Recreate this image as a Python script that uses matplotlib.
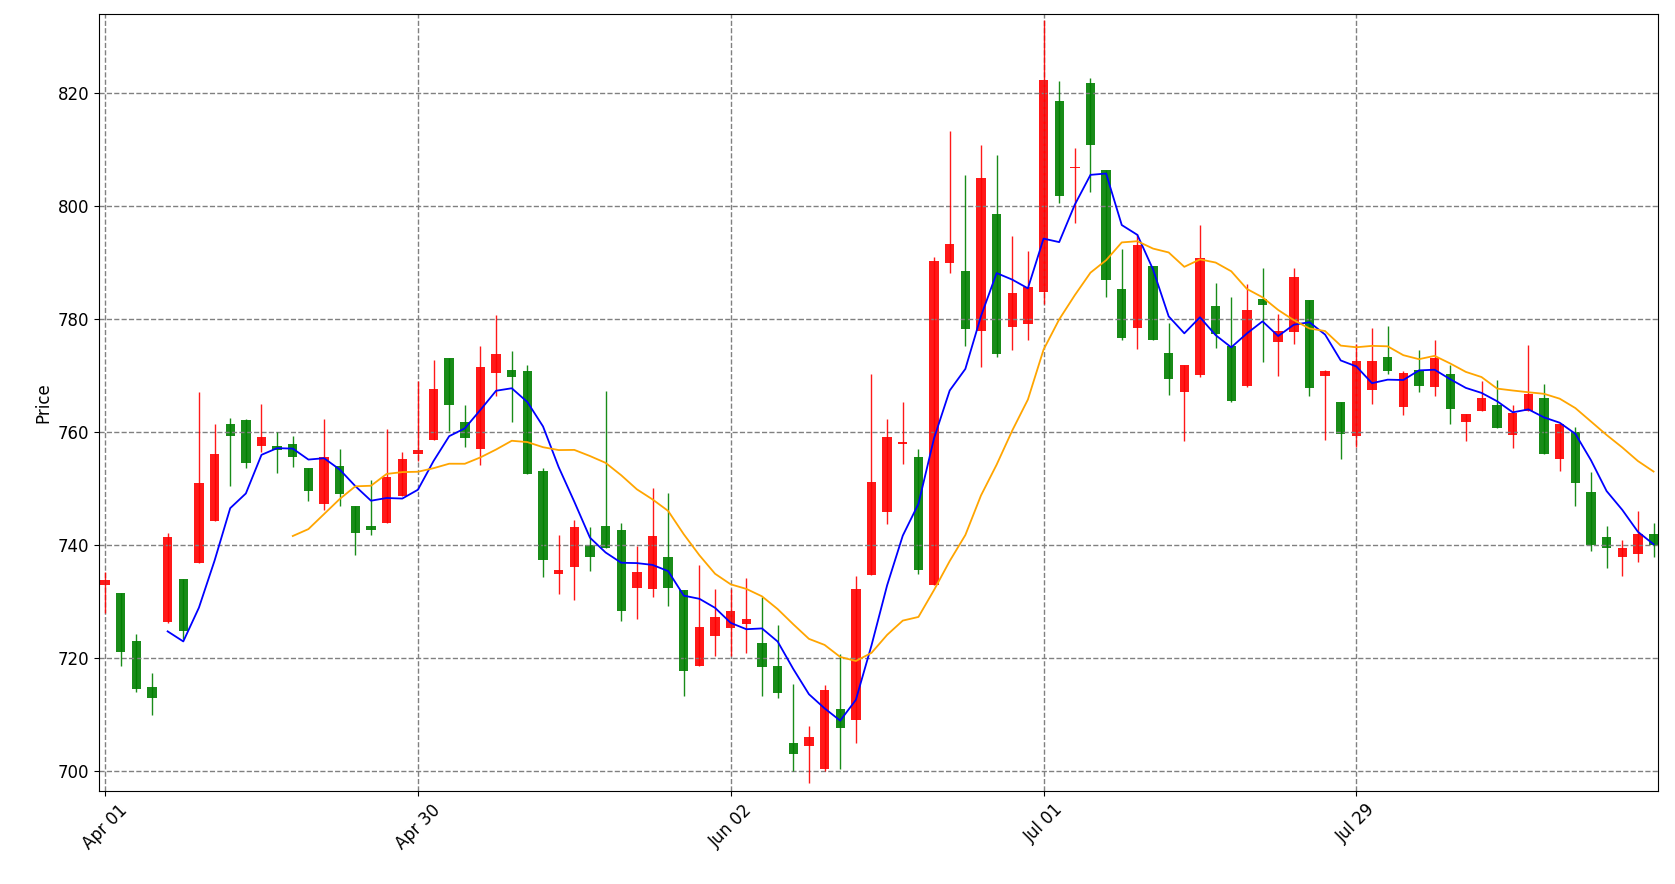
import numpy as np
import pandas as pd
import matplotlib
matplotlib.use("Agg")
import matplotlib.pyplot as plt

# OHLC, one entry per trading day
opens = [732.9, 731.6, 723.1, 715.0, 726.5, 734.1, 736.9, 744.3, 761.4, 762.1,
         757.6, 757.5, 758.0, 753.6, 747.4, 754.0, 746.9, 743.4, 744.0, 748.7,
         756.1, 758.6, 773.2, 761.9, 757.1, 770.5, 771.1, 770.8, 753.1, 735.0,
         736.2, 740.1, 743.5, 742.7, 732.4, 732.2, 737.9, 732.1, 718.7, 724.0,
         725.4, 726.0, 722.8, 718.6, 705.0, 704.5, 700.5, 711.1, 709.1, 734.8,
         745.9, 758.0, 755.7, 732.9, 790.0, 788.6, 778.0, 798.6, 778.7, 779.2,
         784.9, 818.7, 806.8, 821.9, 806.4, 785.4, 778.4, 789.4, 774.0, 767.2,
         770.1, 782.4, 775.2, 768.2, 783.6, 775.9, 777.7, 783.5, 770.0, 765.3,
         759.4, 767.5, 773.4, 764.5, 771.1, 768.0, 770.3, 761.8, 763.7, 764.8,
         759.6, 763.7, 766.1, 755.2, 760.0, 749.5, 741.5, 738.0, 738.5, 742.0]
highs = [735.3, 731.6, 724.4, 717.5, 742.2, 734.1, 767.1, 761.5, 762.6, 762.4,
         765.0, 760.0, 759.4, 753.6, 762.4, 757.0, 746.9, 751.6, 760.6, 756.5,
         769.1, 772.8, 773.2, 764.8, 775.3, 780.8, 774.4, 771.9, 753.7, 741.9,
         744.4, 743.3, 767.4, 744.0, 739.9, 750.2, 749.2, 732.1, 736.6, 732.3,
         732.2, 734.3, 730.8, 725.9, 715.5, 708.0, 715.3, 720.7, 734.5, 770.4,
         762.4, 765.4, 757.1, 791.0, 813.4, 805.6, 810.8, 809.0, 794.8, 792.0,
         833.0, 822.2, 810.4, 822.7, 806.4, 792.5, 795.1, 789.4, 779.4, 771.9,
         796.7, 786.5, 784.0, 786.2, 789.1, 780.9, 789.0, 783.5, 771.0, 765.3,
         775.6, 778.4, 778.8, 770.8, 774.6, 776.4, 771.9, 763.2, 769.1, 769.3,
         764.9, 775.4, 768.5, 761.4, 761.0, 753.0, 743.5, 741.0, 746.0, 744.0]
lows = [728.0, 718.7, 714.0, 710.0, 726.3, 723.4, 736.9, 744.3, 750.5, 753.6,
        756.6, 752.8, 753.8, 747.8, 746.2, 746.9, 738.3, 741.8, 744.0, 748.7,
        754.9, 758.6, 760.2, 757.4, 754.3, 766.5, 761.9, 752.6, 734.4, 731.4,
        730.3, 735.5, 739.5, 726.6, 726.9, 730.9, 729.3, 713.4, 718.7, 720.4,
        720.4, 720.9, 713.3, 713.0, 700.0, 698.0, 700.0, 700.5, 705.0, 734.8,
        743.8, 754.4, 734.9, 732.9, 788.2, 775.3, 771.5, 773.4, 774.5, 776.4,
        782.7, 800.5, 797.0, 802.6, 784.0, 776.4, 774.8, 776.4, 766.6, 758.5,
        769.8, 775.0, 765.3, 768.0, 772.5, 769.9, 775.6, 766.4, 758.7, 755.2,
        757.4, 765.1, 770.3, 763.1, 767.2, 766.4, 761.4, 758.4, 763.7, 760.8,
        757.2, 763.7, 756.1, 753.1, 747.0, 739.0, 736.0, 734.5, 737.0, 738.0]
closes = [733.8, 721.1, 714.5, 713.0, 741.5, 724.9, 751.0, 756.1, 759.4, 754.5,
          759.1, 756.9, 755.7, 749.7, 755.7, 749.1, 742.2, 742.8, 752.1, 755.2,
          756.9, 767.6, 764.8, 759.0, 771.6, 773.8, 769.8, 752.6, 737.4, 735.6,
          743.2, 738.0, 739.5, 728.3, 735.3, 741.6, 732.5, 717.8, 725.5, 727.3,
          728.3, 726.9, 718.5, 713.9, 703.0, 706.0, 714.4, 707.6, 732.3, 751.2,
          759.2, 758.3, 735.7, 790.4, 793.4, 778.3, 805.0, 773.8, 784.6, 785.7,
          822.3, 801.9, 807.0, 810.9, 786.9, 776.7, 793.2, 776.4, 769.4, 771.9,
          790.9, 777.4, 765.6, 781.7, 782.6, 777.9, 787.4, 767.8, 770.8, 759.7,
          772.6, 772.6, 770.9, 770.5, 768.2, 773.2, 764.2, 763.2, 766.1, 760.8,
          763.4, 766.8, 756.1, 761.4, 751.0, 740.0, 739.5, 739.5, 742.0, 740.0]

tick_pos = [0, 20, 40, 60, 80]
tick_labels = ['Apr 01', 'Apr 30', 'Jun 02', 'Jul 01', 'Jul 29']

df = pd.DataFrame({'open': opens, 'high': highs, 'low': lows, 'close': closes})
df['ma5'] = df['close'].rolling(5).mean()
df['ma13'] = df['close'].rolling(13).mean()
x = np.arange(len(df))

fig, ax = plt.subplots(figsize=(16.75, 8.84), dpi=100)

up = df['close'] >= df['open']
cols = np.where(up, 'red', 'green')
ax.vlines(x, df['low'], df['high'], colors=cols, linewidth=1, alpha=0.9)
ax.bar(x, (df['close'] - df['open']).abs(), bottom=df[['open', 'close']].min(axis=1),
       width=0.6, color=cols, alpha=0.9)

ax.plot(x, df['ma5'], color='blue', linewidth=1.3)
ax.plot(x, df['ma13'], color='orange', linewidth=1.3)

ax.set_xticks(tick_pos)
ax.set_xticklabels(tick_labels, rotation=45, fontsize=12)
ax.tick_params(axis='y', labelsize=12)
ax.set_ylabel('Price', fontsize=12)
ax.set_xlim(-0.4, 99.3)
ax.set_ylim(696.5, 834)
ax.grid(True, linestyle='--', color='gray', linewidth=1)

plt.subplots_adjust(left=0.059, right=0.99, top=0.984, bottom=0.105)
fig.savefig('out.png')
